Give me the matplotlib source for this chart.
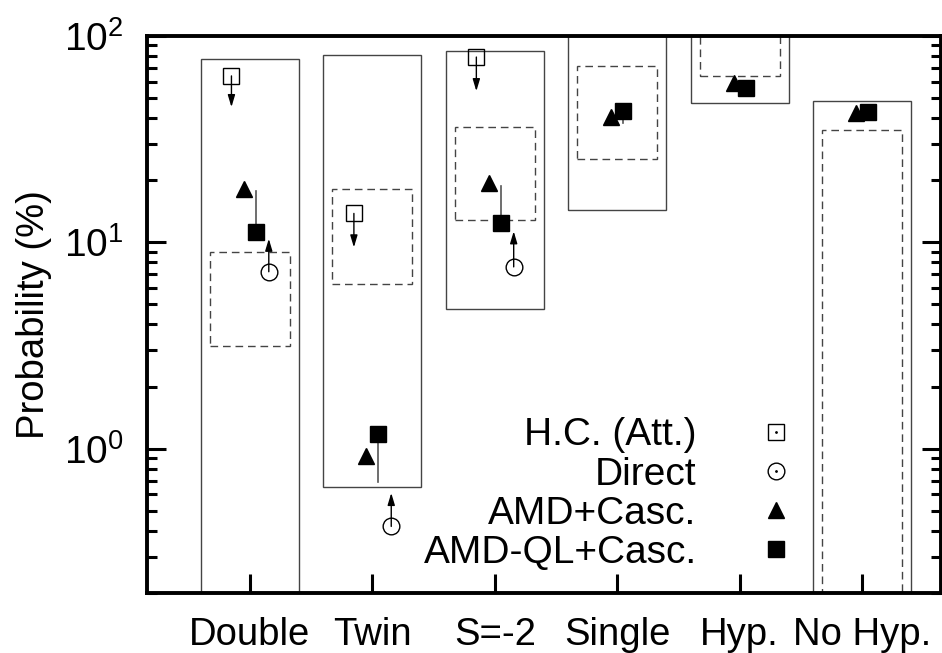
import matplotlib
matplotlib.use("Agg")
import matplotlib.pyplot as plt
from matplotlib.patches import Rectangle
from matplotlib.ticker import LogLocator, NullFormatter, FixedLocator

plt.rcParams['font.family'] = ['Liberation Sans', 'DejaVu Sans']
plt.rcParams['mathtext.fontset'] = 'custom'
plt.rcParams['mathtext.rm'] = 'Liberation Sans'
plt.rcParams['mathtext.it'] = 'Liberation Sans'

# --- data ---
cats = ['Double', 'Twin', 'S=-2', 'Single', 'Hyp.', 'No Hyp.']

# solid boxes (range), dashed boxes (range); values beyond the axes are clipped
solid_lo = [0.1, 0.654, 4.73, 14.3, 47.3, 0.1]
solid_hi = [77.3, 80.9, 84.6, 300, 300, 48.3]
dash_lo = [3.16, 6.3, 12.8, 25.3, 64.0, 0.1]
dash_hi = [8.94, 18.1, 36.2, 71.5, 300, 35.0]

# H.C. (Att.): upper limits (first three categories)
hc_val = [64.0, 13.8, 79.0]
hc_end = [45.2, 9.45, 54.0]
# Direct: lower limits
dir_val = [7.2, 0.42, 7.6]
dir_end = [10.4, 0.61, 11.3]
# AMD+Casc. and AMD-QL+Casc.
amd = [18.1, 0.925, 19.3, 40.4, 59.1, 42.3]
amdql = [11.2, 1.18, 12.4, 43.3, 55.9, 42.8]
amdql_end = [17.7, 0.69, 18.7, 37.8, None, None]

x = list(range(len(cats)))

fig = plt.figure(figsize=(9.42, 6.53), dpi=100)
ax = fig.add_axes([0.156, 0.092, 0.843, 0.853])
ax.set_yscale('log')
ax.set_ylim(0.2, 100)
ax.set_xlim(-0.84, 5.645)

box_c = '#444444'
for i in x:
    ax.add_patch(Rectangle((i - 0.4, solid_lo[i]), 0.8, solid_hi[i] - solid_lo[i],
                           fill=False, ec=box_c, lw=1.0, zorder=1))
    ax.add_patch(Rectangle((i - 0.327, dash_lo[i]), 0.654, dash_hi[i] - dash_lo[i],
                           fill=False, ec=box_c, lw=1.0, ls=(0, (5.5, 3.5)), zorder=1))

arrow = dict(arrowstyle='-|>,head_length=0.6,head_width=0.18', color='k', lw=1,
             mutation_scale=12, shrinkA=0, shrinkB=0)

# H.C. upper limits
for i in range(len(hc_val)):
    ax.annotate('', xy=(i - 0.15, hc_end[i]), xytext=(i - 0.15, hc_val[i]),
                arrowprops=arrow, zorder=3)
ax.plot([i - 0.15 for i in range(len(hc_val))], hc_val, ls='none', marker='s', ms=12,
        mfc='none', mec='k', mew=1.0, zorder=4)

# Direct lower limits
for i in range(len(dir_val)):
    ax.annotate('', xy=(i + 0.155, dir_end[i]), xytext=(i + 0.155, dir_val[i]),
                arrowprops=arrow, zorder=3)
ax.plot([i + 0.155 for i in range(len(dir_val))], dir_val, ls='none', marker='o', ms=12,
        mfc='none', mec='k', mew=1.0, zorder=4)

# AMD-QL lines
for i in x:
    if amdql_end[i] is not None:
        ax.plot([i + 0.05, i + 0.05], [amdql[i], amdql_end[i]], color='#555555', lw=1.2, zorder=2)

ax.plot([i - 0.05 for i in x], amd, ls='none', marker='^', ms=11, color='k', zorder=4)
ax.plot([i + 0.05 for i in x], amdql, ls='none', marker='s', ms=12, color='k', zorder=4)

# legend
h_hc = (plt.Line2D([], [], ls='none', marker='s', ms=11, mfc='none', mec='k', mew=1.0),
        plt.Line2D([], [], ls='none', marker='.', ms=2, color='k'))
h_dir = (plt.Line2D([], [], ls='none', marker='o', ms=12, mfc='none', mec='k', mew=1.0),
         plt.Line2D([], [], ls='none', marker='.', ms=2, color='k'))
h_amd = plt.Line2D([], [], ls='none', marker='^', ms=11, color='k')
h_ql = plt.Line2D([], [], ls='none', marker='s', ms=12, color='k')
ax.legend([h_hc, h_dir, h_amd, h_ql], ['H.C. (Att.)', 'Direct', 'AMD+Casc.', 'AMD-QL+Casc.'],
          loc='upper right', bbox_to_anchor=(0.817, 0.315), frameon=False, markerfirst=False,
          fontsize=28, handlelength=1.0, handletextpad=1.55, labelspacing=0.08, borderpad=0,
          borderaxespad=0)

# axes styling
ax.set_xticks(x)
ax.set_xticklabels(cats)
ax.yaxis.set_major_locator(FixedLocator([1, 10, 100]))
ax.yaxis.set_minor_locator(LogLocator(base=10, subs=range(2, 10)))
ax.yaxis.set_minor_formatter(NullFormatter())
ax.set_yticklabels(['$10^{0}$', '$10^{1}$', '$10^{2}$'])
ax.tick_params(axis='both', which='major', direction='in', length=14, width=2.2)
ax.tick_params(axis='x', labelsize=27.5)
ax.tick_params(axis='y', labelsize=28)
ax.tick_params(axis='y', which='minor', direction='in', length=7, width=2.2)
ax.tick_params(axis='x', which='major', pad=17, top=False)
ax.tick_params(axis='y', which='both', left=True, right=True, pad=17)
for s in ax.spines.values():
    s.set_linewidth(2.8)
ax.set_ylabel('Probability (%)', fontsize=27.5)
ax.yaxis.set_label_coords(-0.12, 0.5)

fig.savefig('out.png', dpi=100)
